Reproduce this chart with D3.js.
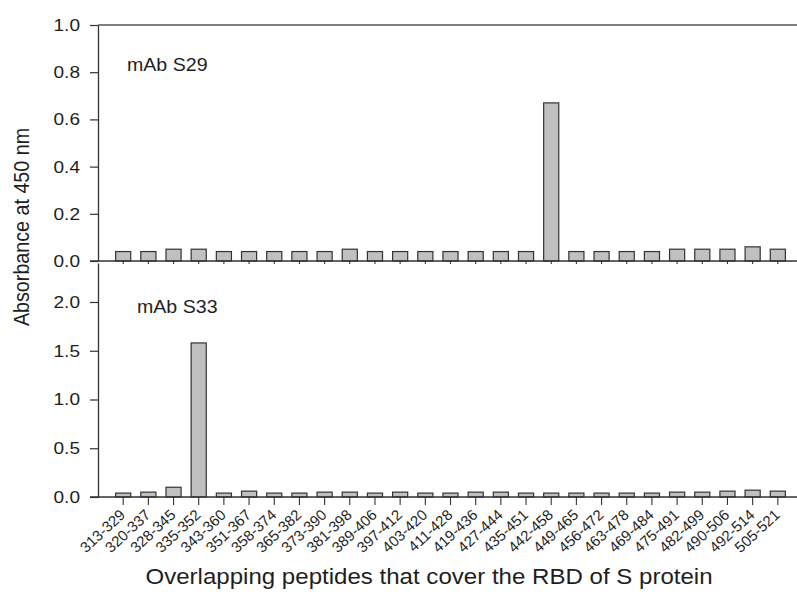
<!DOCTYPE html>
<html>
<head>
<meta charset="utf-8">
<script src="https://cdn.jsdelivr.net/npm/d3@7"></script>
<style>
  html, body { margin: 0; padding: 0; background: #fff; }
  svg { display: block; font-family: "Liberation Sans", Arial, sans-serif; }
</style>
</head>
<body>
<svg id="chart" width="797" height="594"></svg>
<script>
// Peptides spanning the RBD of the S protein
const peptides = ["313-329","320-337","328-345","335-352","343-360","351-367","358-374",
  "365-382","373-390","381-398","389-406","397-412","403-420","411-428","419-436",
  "427-444","435-451","442-458","449-465","456-472","463-478","469-484","475-491",
  "482-499","490-506","492-514","505-521"];

// Absorbance at 450 nm for each antibody
const s29Values = [0.04,0.04,0.05,0.05,0.04,0.04,0.04,0.04,0.04,0.05,0.04,0.04,0.04,0.04,
  0.04,0.04,0.04,0.67,0.04,0.04,0.04,0.04,0.05,0.05,0.05,0.06,0.05];
const s33Values = [0.04,0.05,0.10,1.58,0.04,0.06,0.04,0.04,0.05,0.05,0.04,0.05,0.04,0.04,
  0.05,0.05,0.04,0.04,0.04,0.04,0.04,0.04,0.05,0.05,0.06,0.07,0.06];

const s29Ticks = [0, 0.2, 0.4, 0.6, 0.8, 1.0];
const s33Ticks = [0, 0.5, 1.0, 1.5, 2.0];

const svg = d3.select("#chart");
const axisColor = "#333";
const textColor = "#1e1e1e";
const wide = 1.12; // horizontal widening of the lettering

const left = 98, right = 803;
const x = d3.scaleBand().domain(peptides).range([left, right])
  .paddingInner(0.4).paddingOuter(0.7);

const panels = [
  { name: "mAb S29", values: s29Values, ticks: s29Ticks, domain: [0, 1.0],
    top: 25, bottom: 261, labelX: 127, labelY: 71, tickDown: 3, frameTop: true },
  { name: "mAb S33", values: s33Values, ticks: s33Ticks, domain: [0, 2.4],
    top: 263, bottom: 497, labelX: 137, labelY: 313, tickDown: 8, frameTop: false }
];

panels.forEach(p => {
  const y = d3.scaleLinear().domain(p.domain).range([p.bottom, p.top]);
  const g = svg.append("g");

  // bars
  g.selectAll("rect.bar").data(p.values).join("rect")
    .attr("class", "bar")
    .attr("x", (d, i) => x(peptides[i]))
    .attr("width", x.bandwidth())
    .attr("y", d => y(d))
    .attr("height", d => y(0) - y(d))
    .attr("fill", "#c0c0c0")
    .attr("stroke", axisColor)
    .attr("stroke-width", 1.2);

  // y axis
  const ya = g.append("g").attr("transform", `translate(${left},0)`)
    .call(d3.axisLeft(y).tickValues(p.ticks).tickSize(8).tickSizeOuter(0)
      .tickFormat(d3.format(".1f")));
  ya.select(".domain").attr("stroke", axisColor).attr("stroke-width", 1.3);
  ya.selectAll(".tick line").attr("stroke", axisColor).attr("stroke-width", 1.2);
  ya.selectAll(".tick text").attr("fill", textColor).attr("font-size", 17)
    .attr("font-family", "Liberation Sans, Arial, sans-serif")
    .attr("x", 0).attr("transform", `translate(-18,0) scale(${wide},1)`);

  // x baseline with ticks under each peptide
  const xa = g.append("g").attr("transform", `translate(0,${p.bottom})`)
    .call(d3.axisBottom(x).tickSize(p.tickDown).tickSizeOuter(0)
      .tickFormat(p.frameTop ? "" : d => d));
  xa.select(".domain").attr("stroke", axisColor).attr("stroke-width", 1.3)
    .attr("d", `M${left - 8},0H${right}`);
  xa.selectAll(".tick line").attr("stroke", axisColor).attr("stroke-width", 1.1);
  if (!p.frameTop) {
    xa.selectAll(".tick text")
      .attr("fill", textColor).attr("font-size", 15)
      .attr("font-family", "Liberation Sans, Arial, sans-serif")
      .attr("text-anchor", "end")
      .attr("dy", null)
      .attr("transform", "translate(3,19) rotate(-43)")
      .attr("y", 0).attr("x", 0);
  }

  // top frame line for the upper panel
  if (p.frameTop) {
    g.append("line").attr("x1", left).attr("x2", right)
      .attr("y1", p.top).attr("y2", p.top)
      .attr("stroke", "#555").attr("stroke-width", 1.3);
  }

  g.append("text")
    .attr("transform", `translate(${p.labelX},${p.labelY}) scale(${wide},1)`)
    .attr("fill", textColor).attr("font-size", 17.5).text(p.name);
});

// axis titles
svg.append("text")
  .attr("transform", `translate(28.5,227) rotate(-90) scale(1,${wide})`)
  .attr("text-anchor", "middle").attr("fill", textColor).attr("font-size", 19.7)
  .text("Absorbance at 450 nm");

svg.append("text")
  .attr("transform", `translate(429,584) scale(${wide},1)`)
  .attr("text-anchor", "middle").attr("fill", textColor).attr("font-size", 21.5)
  .text("Overlapping peptides that cover the RBD of S protein");
</script>
</body>
</html>
